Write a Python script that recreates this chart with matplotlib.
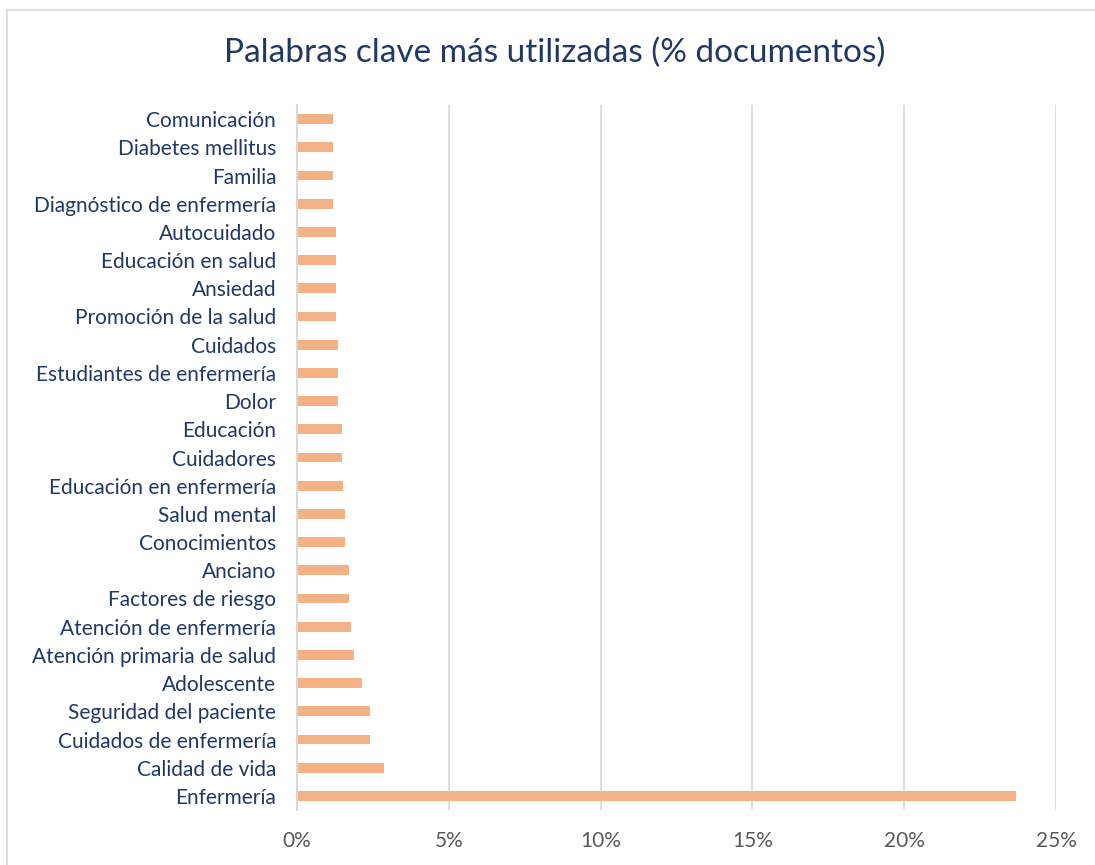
import matplotlib
matplotlib.use("Agg")
import matplotlib.pyplot as plt
from matplotlib.patches import Rectangle
from matplotlib.ticker import FuncFormatter, MultipleLocator

plt.rcParams['font.family'] = ['Lato', 'DejaVu Sans']

keywords = [
    "Enfermería", "Calidad de vida", "Cuidados de enfermería", "Seguridad del paciente",
    "Adolescente", "Atención primaria de salud", "Atención de enfermería", "Factores de riesgo",
    "Anciano", "Conocimientos", "Salud mental", "Educación en enfermería", "Cuidadores",
    "Educación", "Dolor", "Estudiantes de enfermería", "Cuidados", "Promoción de la salud",
    "Ansiedad", "Educación en salud", "Autocuidado", "Diagnóstico de enfermería",
    "Familia", "Diabetes mellitus", "Comunicación",
]
percent = [
    23.68, 2.88, 2.42, 2.42,
    2.13, 1.88, 1.77, 1.71,
    1.71, 1.58, 1.58, 1.53, 1.47,
    1.47, 1.35, 1.35, 1.35, 1.29,
    1.29, 1.29, 1.29, 1.17,
    1.17, 1.17, 1.17,
]
title = "Palabras clave más utilizadas (% documentos)"

W, H = 1095, 865
fig = plt.figure(figsize=(W / 100, H / 100), dpi=100)
fig.patches.append(Rectangle((7 / W, -0.1), 1.2, (H - 10) / H + 0.1,
                             transform=fig.transFigure, fill=False,
                             edgecolor="#D9D9D9", linewidth=1.2))

ax = fig.add_axes([297 / W, (H - 810) / H, (1056 - 297) / W, (810 - 105) / H])
y = list(range(len(keywords)))
ax.barh(y, percent, height=0.35, color="#F4B183", zorder=3)
ax.set_ylim(-0.5, len(keywords) - 0.5)
ax.set_xlim(0, 25)
ax.xaxis.set_major_locator(MultipleLocator(5))
ax.xaxis.set_major_formatter(FuncFormatter(lambda v, p: f"{v:.0f}%"))
ax.set_yticks(y)
ax.set_yticklabels(keywords)
ax.grid(axis="x", color="#D9D9D9", linewidth=1.2, zorder=0)
for s in ["top", "right", "bottom"]:
    ax.spines[s].set_visible(False)
ax.spines["left"].set_color("#D9D9D9")
ax.spines["left"].set_linewidth(1.5)
ax.spines["left"].set_zorder(4)
ax.tick_params(axis="y", length=0, pad=15, labelsize=15, labelcolor="#203864")
ax.tick_params(axis="x", length=0, pad=15, labelsize=15, labelcolor="#595959")

fig.text(555 / W, (H - 53) / H, title, ha="center", va="center",
         fontsize=24, color="#203864")

fig.savefig("out.png", dpi=100, facecolor="white")
